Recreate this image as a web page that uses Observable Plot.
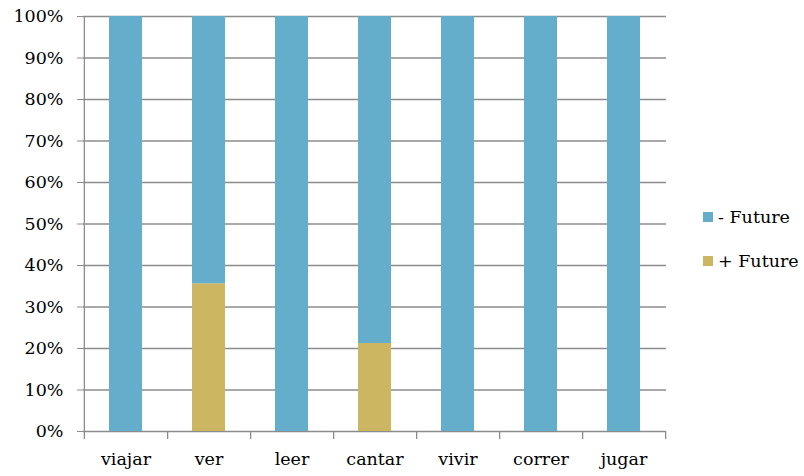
<!DOCTYPE html>
<html>
<head>
<meta charset="utf-8">
<script src="https://cdn.jsdelivr.net/npm/d3@7"></script>
<script src="https://cdn.jsdelivr.net/npm/@observablehq/plot@0.6"></script>
<style>
  html, body { margin: 0; padding: 0; background: #fff; }
  #wrap { position: relative; width: 804px; height: 476px; font-family: "DejaVu Serif", serif; }
  #legend { position: absolute; left: 703px; top: 0; font-size: 17.5px; color: #000; }
  .item { position: absolute; left: 0; white-space: nowrap; display: flex; align-items: center; }
  .sw { width: 10px; height: 10px; margin-right: 5px; display: inline-block; }
</style>
</head>
<body>
<div id="wrap"><div id="chart"></div><div id="legend"></div></div>
<script>
const categories = ["viajar", "ver", "leer", "cantar", "vivir", "correr", "jugar"];
const plusFuture = [0, 35.6, 0, 21.2, 0, 0, 0];
const minusFuture = [100, 64.4, 100, 78.8, 100, 100, 100];
const seriesNames = ["+ Future", "- Future"];
const seriesColors = ["#CDB662", "#65AECB"];
const yTicks = [0, 10, 20, 30, 40, 50, 60, 70, 80, 90, 100];

const rows = [];
categories.forEach((c, i) => {
  rows.push({cat: c, series: "+ Future", value: plusFuture[i]});
  rows.push({cat: c, series: "- Future", value: minusFuture[i]});
});

const W = 690, H = 476, mL = 83, mR = 24, mT = 16, mB = 45;
const bw = (W - mL - mR) / categories.length;

const plot = Plot.plot({
  width: W, height: H,
  marginLeft: mL, marginRight: mR, marginTop: mT, marginBottom: mB,
  style: {fontFamily: "DejaVu Serif, serif", fontSize: "17.5px", color: "#000", background: "#fff"},
  x: {domain: categories, paddingInner: 0, paddingOuter: 0, label: null},
  y: {domain: [0, 100], label: null},
  color: {domain: seriesNames, range: seriesColors},
  marks: [
    Plot.ruleY(yTicks, {stroke: "#8c8c8c", strokeWidth: 1.3}),
    Plot.barY(rows, Plot.stackY({x: "cat", y: "value", fill: "series", order: seriesNames, insetLeft: 25, insetRight: 25})),
    Plot.ruleX([categories[0]], {x: d => d, stroke: "#8c8c8c", strokeWidth: 1.3, insetBottom: -8, dx: -bw / 2}),
    Plot.ruleX(categories, {x: d => d, y1: 0, y2: 0, stroke: "#8c8c8c", strokeWidth: 1.3, insetBottom: -8, dx: bw / 2}),
    Plot.axisY(yTicks, {tickFormat: d => d + "%", tickSize: 6, tickPadding: 14, stroke: "#8c8c8c", fill: "#000", fontSize: 17.5}),
    Plot.axisX({tickSize: 0, tickPadding: 21, fill: "#000", fontSize: 17.5})
  ]
});
document.getElementById("chart").appendChild(plot);

const legend = document.getElementById("legend");
const legendOrder = ["- Future", "+ Future"];
const legendTops = [207, 251];
legendOrder.forEach((name, i) => {
  const it = document.createElement("div");
  it.className = "item";
  it.style.top = legendTops[i] + "px";
  const sw = document.createElement("span");
  sw.className = "sw";
  sw.style.background = seriesColors[seriesNames.indexOf(name)];
  it.appendChild(sw);
  it.appendChild(document.createTextNode(name));
  legend.appendChild(it);
});
</script>
</body>
</html>
